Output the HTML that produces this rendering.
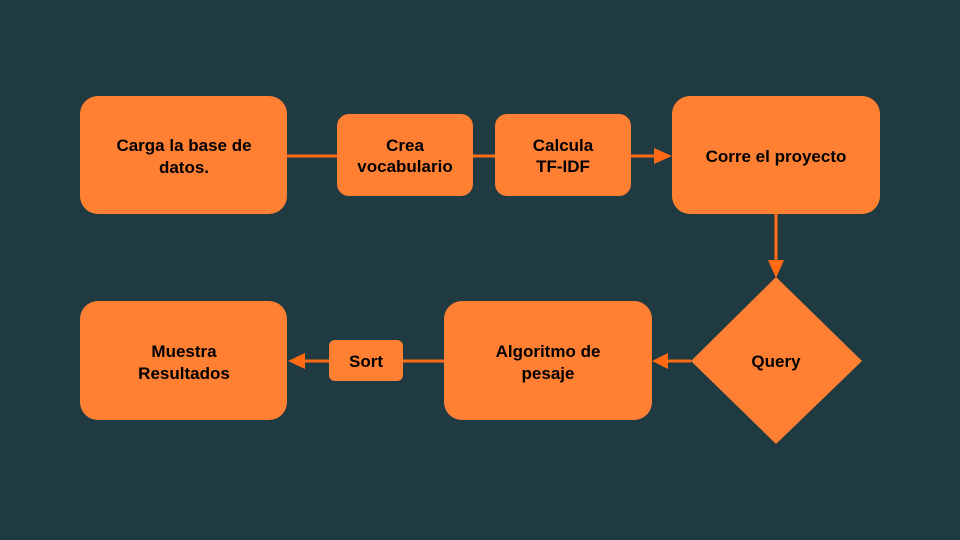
<!DOCTYPE html>
<html><head><meta charset="utf-8"><style>
body{margin:0;width:960px;height:540px;background:#203a42;overflow:hidden}
svg{display:block}
text{font-family:"Liberation Sans",sans-serif;font-weight:bold;font-size:17px;fill:#000;text-anchor:middle}
</style></head><body>
<svg width="960" height="540" viewBox="0 0 960 540">
<g stroke="#ff6a13" stroke-width="3" fill="none">
<line x1="287" y1="156" x2="658" y2="156"/>
<line x1="776" y1="214" x2="776" y2="263"/>
<line x1="691" y1="361" x2="666" y2="361"/>
<line x1="444" y1="361" x2="302" y2="361"/>
</g>
<g fill="#ff6a13">
<polygon points="672,156 654,148 654,164"/>
<polygon points="776,278 768,260 784,260"/>
<polygon points="652,361 668,353 668,369"/>
<polygon points="288,361 305,353 305,369"/>
</g>
<g fill="#ff8033">
<rect x="80" y="96" width="207" height="118" rx="18"/>
<rect x="337" y="114" width="136" height="82" rx="12"/>
<rect x="495" y="114" width="136" height="82" rx="12"/>
<rect x="672" y="96" width="208" height="118" rx="18"/>
<polygon points="776,277 862,361 776,444 691,361"/>
<rect x="444" y="301" width="208" height="119" rx="18"/>
<rect x="329" y="340" width="74" height="41" rx="6"/>
<rect x="80" y="301" width="207" height="119" rx="18"/>
</g>
<text x="184" y="151">Carga la base de</text>
<text x="184" y="173">datos.</text>
<text x="405" y="151">Crea</text>
<text x="405" y="172">vocabulario</text>
<text x="563" y="151">Calcula</text>
<text x="563" y="172">TF-IDF</text>
<text x="776" y="162">Corre el proyecto</text>
<text x="776" y="367">Query</text>
<text x="548" y="357">Algoritmo de</text>
<text x="548" y="379">pesaje</text>
<text x="366" y="367">Sort</text>
<text x="184" y="357">Muestra</text>
<text x="184" y="379">Resultados</text>
</svg>
</body></html>
